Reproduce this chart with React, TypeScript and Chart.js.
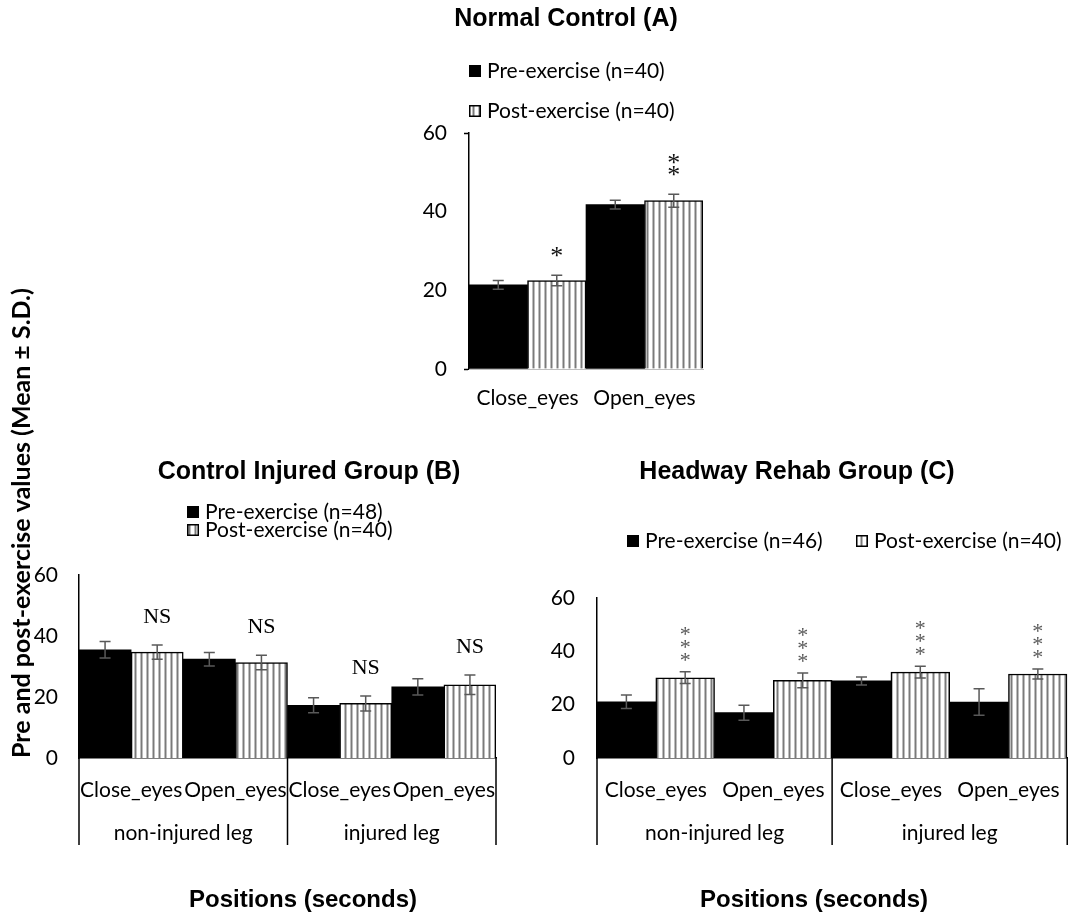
import React, { useEffect, useRef } from 'react';
import { Chart, registerables } from 'chart.js';

Chart.register(...registerables);

// ---------- Panel A : Normal Control ----------
const categoriesA = ['Close_eyes', 'Open_eyes'];
const preA = [21.4, 41.8];
const postA = [22.5, 42.8];
const preErrA = [1.1, 1.1];
const postErrA = [1.35, 1.65];
const marksA = ['*', '**'];
const legendA = ['Pre-exercise (n=40)', 'Post-exercise (n=40)'];

// ---------- Panel B : Control Injured Group ----------
const categoriesB = ['Close_eyes', 'Open_eyes', 'Close_eyes', 'Open_eyes'];
const groupsB = ['non-injured leg', 'injured leg'];
const preB = [35.5, 32.4, 17.3, 23.3];
const postB = [34.7, 31.3, 17.9, 24.0];
const preErrB = [2.7, 2.2, 2.45, 2.65];
const postErrB = [2.35, 2.35, 2.45, 3.2];
const marksB = ['NS', 'NS', 'NS', 'NS'];
const legendB = ['Pre-exercise (n=48)', 'Post-exercise (n=40)'];

// ---------- Panel C : Headway Rehab Group ----------
const categoriesC = ['Close_eyes', 'Open_eyes', 'Close_eyes', 'Open_eyes'];
const groupsC = ['non-injured leg', 'injured leg'];
const preC = [21.1, 17.0, 28.9, 21.0];
const postC = [30.1, 29.1, 32.2, 31.5];
const preErrC = [2.5, 2.8, 1.5, 5.0];
const postErrC = [2.2, 2.75, 2.2, 1.9];
const marksC = ['***', '***', '***', '***'];
const legendC = ['Pre-exercise (n=46)', 'Post-exercise (n=40)'];

const yMin = 0;
const yMax = 60;
const yStep = 20;
const panelTitles = ['Normal Control (A)', 'Control Injured Group (B)', 'Headway Rehab Group (C)'];
const yAxisTitle = 'Pre and post-exercise values (Mean ± S.D.)';
const xAxisTitle = 'Positions (seconds)';

const SANS = 'Lato';
const TICK_SIZE = 21;

function makeStripe(): CanvasPattern | string {
  const c = document.createElement('canvas');
  c.width = 6;
  c.height = 6;
  const g = c.getContext('2d');
  if (!g) return '#ccc';
  g.fillStyle = '#ffffff';
  g.fillRect(0, 0, 6, 6);
  g.fillStyle = '#bdbdbd';
  g.fillRect(2, 0, 1, 6);
  g.fillRect(4, 0, 1, 6);
  g.fillStyle = '#7a7a7a';
  g.fillRect(3, 0, 1, 6);
  return g.createPattern(c, 'repeat') || '#ccc';
}

type TextItem = { text: string; x: number; y: number; font: string; color?: string; rotate?: boolean };

type Spec = {
  cats: string[];
  groups?: string[];
  pre: number[];
  post: number[];
  preErr: number[];
  postErr: number[];
  marks: string[];
  legend: string[];
  legendPos: { x: number; y: number }[];
  texts: TextItem[];
  left: number;
  top: number;
  width: number;
  height: number;
  area: { l: number; t: number; r: number; b: number };
  yW: number;
  xH: number;
  x2H: number;
  yPad: number;
  tickLen: number;
  xPad: number;
  x2Pad: number;
  xBorderColor: string;
  xBorderWidth: number;
  markFont: string;
  markColor: string;
  markGap: number;
  markPitch: number;
  sepLen: number;
};

function textOffset(ctx: CanvasRenderingContext2D, s: string) {
  const m = ctx.measureText(s);
  return (m.actualBoundingBoxAscent - m.actualBoundingBoxDescent) / 2;
}

function overlayPlugin(p: Spec, pattern: CanvasPattern | string) {
  return {
    id: 'overlay',
    afterDatasetsDraw(chart: any) {
      const ctx: CanvasRenderingContext2D = chart.ctx;
      const yS = chart.scales.y;
      const sets = [
        { vals: p.pre, errs: p.preErr },
        { vals: p.post, errs: p.postErr },
      ];
      ctx.save();
      ctx.strokeStyle = '#595959';
      ctx.lineWidth = 1.5;
      sets.forEach((s, di) => {
        const meta = chart.getDatasetMeta(di);
        meta.data.forEach((bar: any, i: number) => {
          const x = bar.x;
          const yt = yS.getPixelForValue(s.vals[i] + s.errs[i]);
          const yb = yS.getPixelForValue(s.vals[i] - s.errs[i]);
          ctx.beginPath();
          ctx.moveTo(x, yt);
          ctx.lineTo(x, yb);
          ctx.moveTo(x - 5.5, yt);
          ctx.lineTo(x + 5.5, yt);
          ctx.moveTo(x - 5.5, yb);
          ctx.lineTo(x + 5.5, yb);
          ctx.stroke();
        });
      });
      // significance marks above post bars
      const meta = chart.getDatasetMeta(1);
      ctx.font = p.markFont;
      ctx.fillStyle = p.markColor;
      ctx.textAlign = 'center';
      ctx.textBaseline = 'alphabetic';
      meta.data.forEach((bar: any, i: number) => {
        const m = p.marks[i];
        if (!m) return;
        const base = yS.getPixelForValue(p.post[i] + p.postErr[i]) - p.markGap;
        if (m.replace(/\*/g, '') === '') {
          const off = textOffset(ctx, '*');
          for (let k = 0; k < m.length; k++) {
            ctx.fillText('*', bar.x, base - k * p.markPitch + off);
          }
        } else {
          ctx.fillText(m, bar.x, base + textOffset(ctx, m));
        }
      });
      ctx.restore();
    },
    afterDraw(chart: any) {
      const ctx: CanvasRenderingContext2D = chart.ctx;
      const xS = chart.scales.x;
      const ca = chart.chartArea;
      ctx.save();
      // group separators below the category axis
      if (p.groups) {
        const n = p.cats.length;
        const per = n / p.groups.length;
        ctx.strokeStyle = '#000';
        ctx.lineWidth = 1.5;
        for (let g = 0; g <= p.groups.length; g++) {
          const x = xS.getPixelForValue(g * per - 0.5);
          ctx.beginPath();
          ctx.moveTo(x, ca.bottom);
          ctx.lineTo(x, ca.bottom + p.sepLen);
          ctx.stroke();
        }
      }
      // legend
      ctx.font = `${TICK_SIZE}px ${SANS}`;
      ctx.textAlign = 'left';
      ctx.textBaseline = 'alphabetic';
      p.legend.forEach((label, k) => {
        const pos = p.legendPos[k];
        const x = pos.x - p.left;
        const y = pos.y - p.top;
        if (k === 0) {
          ctx.fillStyle = '#000';
          ctx.fillRect(x, y - 6, 12, 12);
        } else {
          ctx.fillStyle = pattern as any;
          ctx.fillRect(x, y - 6, 12, 12);
          ctx.strokeStyle = '#000';
          ctx.lineWidth = 1.5;
          ctx.strokeRect(x + 0.75, y - 5.25, 10.5, 10.5);
        }
        ctx.fillStyle = '#000';
        ctx.fillText(label, x + 18, y + textOffset(ctx, label));
      });
      // titles
      p.texts.forEach((t) => {
        ctx.save();
        ctx.font = t.font;
        ctx.fillStyle = t.color || '#000';
        ctx.textAlign = 'center';
        ctx.textBaseline = 'alphabetic';
        const off = textOffset(ctx, t.text);
        if (t.rotate) {
          ctx.translate(t.x - p.left, t.y - p.top);
          ctx.rotate(-Math.PI / 2);
          ctx.fillText(t.text, 0, off);
        } else {
          ctx.fillText(t.text, t.x - p.left, t.y - p.top + off);
        }
        ctx.restore();
      });
      ctx.restore();
    },
  };
}

function buildConfig(p: Spec) {
  const pattern = makeStripe();
  const padding = {
    left: p.area.l - p.left - p.yW,
    top: p.area.t - p.top,
    right: p.left + p.width - p.area.r,
    bottom: p.top + p.height - p.area.b - p.xH - p.x2H,
  };
  const tickFont = { family: SANS, size: TICK_SIZE };
  const scales: any = {
    y: {
      min: yMin,
      max: yMax,
      ticks: { stepSize: yStep, color: '#000', font: tickFont, padding: p.yPad },
      grid: {
        display: p.tickLen > 0,
        drawOnChartArea: false,
        drawTicks: p.tickLen > 0,
        tickLength: p.tickLen,
        tickWidth: 1.5,
        tickColor: (c: any) =>
          c.tick && (c.tick.value === yMin || c.tick.value === yMax) ? '#000' : 'rgba(0,0,0,0)',
      },
      border: { display: true, color: '#000', width: 1.5 },
      afterFit: (s: any) => {
        s.width = p.yW;
      },
    },
    x: {
      type: 'category',
      offset: true,
      weight: 1,
      grid: { display: false, drawTicks: false },
      border: { display: true, color: p.xBorderColor, width: p.xBorderWidth },
      ticks: { color: '#000', font: tickFont, padding: p.xPad, maxRotation: 0, minRotation: 0, autoSkip: false },
      afterFit: (s: any) => {
        s.height = p.xH;
      },
    },
  };
  if (p.groups) {
    scales.x2 = {
      type: 'category',
      position: 'bottom',
      labels: p.groups,
      offset: true,
      weight: 2,
      grid: { display: false, drawTicks: false },
      border: { display: false },
      ticks: { color: '#000', font: tickFont, padding: p.x2Pad, maxRotation: 0, minRotation: 0, autoSkip: false },
      afterFit: (s: any) => {
        s.height = p.x2H;
      },
    };
  }
  return {
    type: 'bar' as const,
    data: {
      labels: p.cats,
      datasets: [
        {
          label: p.legend[0],
          data: p.pre,
          backgroundColor: '#000',
          borderWidth: 0,
          categoryPercentage: 1,
          barPercentage: 1,
        },
        {
          label: p.legend[1],
          data: p.post,
          backgroundColor: pattern,
          borderColor: '#000',
          borderWidth: 1.5,
          categoryPercentage: 1,
          barPercentage: 1,
        },
      ],
    },
    options: {
      responsive: false,
      animation: false as const,
      events: [],
      layout: { padding },
      plugins: {
        legend: { display: false },
        title: { display: false },
        tooltip: { enabled: false },
      },
      scales,
    },
    plugins: [overlayPlugin(p, pattern)],
  };
}

const TITLE_FONT = 'bold 25px "Liberation Sans", Arial, sans-serif';
const XTITLE_FONT = 'bold 24px "Liberation Sans", Arial, sans-serif';

const specA: Spec = {
  cats: categoriesA,
  pre: preA,
  post: postA,
  preErr: preErrA,
  postErr: postErrA,
  marks: marksA,
  legend: legendA,
  legendPos: [
    { x: 469, y: 71 },
    { x: 469, y: 111 },
  ],
  texts: [{ text: panelTitles[0], x: 566, y: 19, font: TITLE_FONT }],
  left: 380,
  top: 0,
  width: 400,
  height: 430,
  area: { l: 469, t: 133, r: 703, b: 369 },
  yW: 60,
  xH: 45,
  x2H: 0,
  yPad: 17,
  tickLen: 5,
  xPad: 17,
  x2Pad: 0,
  xBorderColor: '#bfbfbf',
  xBorderWidth: 1,
  markFont: '26px "Liberation Serif", serif',
  markColor: '#111',
  markGap: 23,
  markPitch: 12,
  sepLen: 0,
};

const specB: Spec = {
  cats: categoriesB,
  groups: groupsB,
  pre: preB,
  post: postB,
  preErr: preErrB,
  postErr: postErrB,
  marks: marksB,
  legend: legendB,
  legendPos: [
    { x: 187, y: 512 },
    { x: 187, y: 530 },
  ],
  texts: [
    { text: panelTitles[1], x: 309, y: 472, font: TITLE_FONT },
    { text: yAxisTitle, x: 22, y: 523, font: `bold 25px ${SANS}`, rotate: true },
    { text: xAxisTitle, x: 303, y: 900, font: XTITLE_FONT },
  ],
  left: 0,
  top: 0,
  width: 540,
  height: 916,
  area: { l: 79, t: 575, r: 496, b: 758 },
  yW: 60,
  xH: 55,
  x2H: 40,
  yPad: 21,
  tickLen: 0,
  xPad: 20,
  x2Pad: 8,
  xBorderColor: '#000',
  xBorderWidth: 1.5,
  markFont: '22px "Liberation Serif", serif',
  markColor: '#000',
  markGap: 29,
  markPitch: 0,
  sepLen: 87,
};

const specC: Spec = {
  cats: categoriesC,
  groups: groupsC,
  pre: preC,
  post: postC,
  preErr: preErrC,
  postErr: postErrC,
  marks: marksC,
  legend: legendC,
  legendPos: [
    { x: 627, y: 541 },
    { x: 856, y: 541 },
  ],
  texts: [
    { text: panelTitles[2], x: 797, y: 472, font: TITLE_FONT },
    { text: xAxisTitle, x: 814, y: 900, font: XTITLE_FONT },
  ],
  left: 540,
  top: 0,
  width: 540,
  height: 916,
  area: { l: 597, t: 598, r: 1077, b: 758 },
  yW: 57,
  xH: 55,
  x2H: 40,
  yPad: 22,
  tickLen: 0,
  xPad: 20,
  x2Pad: 8,
  xBorderColor: '#000',
  xBorderWidth: 1.5,
  markFont: '22px "Liberation Serif", serif',
  markColor: '#595959',
  markGap: 15,
  markPitch: 13,
  sepLen: 87,
};

function Panel({ spec }: { spec: Spec }) {
  const ref = useRef<HTMLCanvasElement | null>(null);
  useEffect(() => {
    if (!ref.current) return;
    const chart = new Chart(ref.current, buildConfig(spec) as any);
    return () => chart.destroy();
  }, [spec]);
  return (
    <canvas
      ref={ref}
      width={spec.width}
      height={spec.height}
      style={{
        position: 'absolute',
        left: spec.left,
        top: spec.top,
        width: spec.width,
        height: spec.height,
        display: 'block',
      }}
    />
  );
}

export default function App() {
  return (
    <div
      style={{
        position: 'absolute',
        left: 0,
        top: 0,
        width: 1074,
        height: 916,
        overflow: 'hidden',
        background: '#fff',
      }}
    >
      <Panel spec={specB} />
      <Panel spec={specC} />
      <Panel spec={specA} />
    </div>
  );
}
